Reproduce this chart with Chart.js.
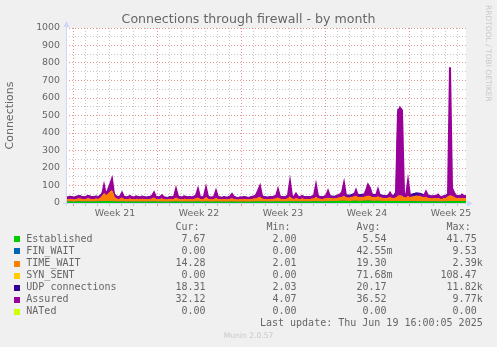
<!DOCTYPE html>
<html>
<head>
<meta charset="utf-8">
<script src="https://cdn.jsdelivr.net/npm/chart.js@4.4.1/dist/chart.umd.min.js"></script>
<style>
  html, body { margin: 0; padding: 0; background: #f0f0f0; }
  canvas { display: block; }
</style>
</head>
<body>
<canvas id="fwChart" width="497" height="347"></canvas>
<script>
// samples every 4 hours, hour 0 = left edge of the graph (33 1/3 days shown)
var hours = [];
for (let h = 0; h <= 800; h += 4) hours.push(h);

var weekLabels = ['Week 21', 'Week 22', 'Week 23', 'Week 24', 'Week 25'];
var weekLabelHours = [98, 266, 434, 602, 770];
var weekStartHours = [14, 182, 350, 518, 686];
var firstMidnightHour = 14;

var yTicksMajor = [0, 100, 200, 300, 400, 500, 600, 700, 800, 900, 1000];

var seriesNames = ['Established', 'FIN_WAIT', 'TIME_WAIT', 'SYN_SENT', 'UDP connections', 'Assured', 'NATed'];
var seriesColors = ['#00cc00', '#0066b3', '#ff8000', '#ffcc00', '#330099', '#990099', '#ccff00'];
var curValues = ['7.67', '0.00', '14.28', '0.00', '18.31', '32.12', '0.00'];
var minValues = ['2.00', '0.00', '2.01', '0.00', '2.03', '4.07', '0.00'];
var avgValues = ['5.54', '42.55m', '19.30', '71.68m', '20.17', '36.52', '0.00'];
var maxValues = ['41.75', '9.53', '2.39k', '108.47', '11.82k', '9.77k', '0.00'];
var statHeaders = ['Cur:', 'Min:', 'Avg:', 'Max:'];
var lastUpdate = 'Last update: Thu Jun 19 16:00:05 2025';

var established = [
  5, 5, 6, 5, 4, 5, 6, 6, 5, 5,
  5, 6, 5, 5, 5, 6, 5, 6, 7, 8,
  7, 7, 8, 9, 6, 5, 5, 5, 6, 5,
  4, 5, 5, 5, 4, 5, 5, 4, 5, 5,
  4, 5, 5, 5, 6, 5, 4, 5, 5, 4,
  4, 4, 5, 4, 5, 6, 5, 5, 4, 5,
  5, 4, 5, 4, 5, 5, 6, 5, 4, 5,
  6, 5, 4, 4, 5, 5, 5, 4, 4, 5,
  4, 4, 5, 5, 5, 4, 4, 4, 4, 5,
  4, 4, 4, 5, 5, 5, 6, 6, 5, 5,
  5, 4, 5, 5, 5, 6, 6, 5, 5, 5,
  5, 6, 7, 5, 5, 6, 5, 5, 6, 5,
  5, 5, 5, 6, 6, 7, 6, 6, 5, 6,
  6, 7, 7, 8, 8, 8, 9, 9, 10, 10,
  9, 9, 8, 9, 10, 10, 9, 9, 9, 10,
  10, 11, 10, 9, 9, 9, 10, 9, 9, 8,
  8, 9, 9, 8, 8, 9, 8, 8, 8, 8,
  7, 8, 7, 7, 6, 7, 7, 7, 6, 6,
  6, 6, 6, 5, 6, 6, 6, 5, 5, 6,
  6, 7, 8, 8, 7, 7, 8, 7, 8, 8, 8
];

var finWait = [
  0, 0, 0, 0, 0, 0, 0, 0, 0, 0,  0, 0, 0, 0, 0, 0, 0, 0, 0, 0,
  0, 0, 0, 0, 0, 0, 0, 0, 0, 0,  0, 0, 0, 0, 0, 0, 0, 0, 0, 0,
  0, 0, 0, 0, 0, 0, 0, 0, 0, 0,  0, 0, 0, 0, 0, 0, 0, 0, 0, 0,
  0, 0, 0, 0, 0, 0, 0, 0, 0, 0,  0, 0, 0, 0, 0, 0, 0, 0, 0, 0,
  0, 0, 0, 0, 0, 0, 0, 0, 0, 0,  0, 0, 0, 0, 0, 0, 0, 0, 0, 0,
  0, 0, 0, 0, 0, 0, 0, 0, 0, 0,  0, 0, 0, 0, 0, 0, 0, 0, 0, 0,
  0, 0, 0, 0, 0, 0, 0, 0, 0, 0,  0, 0, 0, 0, 0, 0, 0, 0, 0, 0,
  0, 0, 0, 0, 0, 0, 0, 0, 0, 0,  0, 0, 0, 0, 0, 0, 0, 0, 0, 0,
  0, 0, 0, 0, 0, 0, 0, 0, 0, 0,  0, 0, 0, 0, 0, 0, 0, 0, 0, 0,
  0, 0, 0, 0, 0, 0, 0, 0, 0, 0,  0, 0, 0, 0, 0, 0, 0, 0, 0, 0,
  0
];

var timeWait = [
  14, 13, 15, 14, 12, 15, 16, 17, 15, 14,
  15, 18, 16, 14, 15, 16, 15, 18, 30, 45,
  35, 40, 55, 60, 30, 18, 15, 16, 22, 15,
  14, 15, 17, 14, 13, 16, 15, 14, 16, 15,
  13, 14, 15, 17, 22, 15, 14, 15, 18, 14,
  13, 13, 15, 14, 16, 22, 16, 14, 13, 16,
  15, 14, 15, 13, 16, 18, 22, 15, 14, 16,
  24, 16, 14, 13, 15, 20, 15, 14, 13, 15,
  13, 14, 16, 18, 15, 13, 12, 14, 13, 15,
  14, 13, 14, 15, 17, 18, 22, 26, 17, 15,
  14, 13, 15, 14, 16, 17, 22, 16, 15, 14,
  15, 18, 28, 17, 15, 18, 16, 14, 17, 15,
  14, 15, 14, 16, 17, 26, 17, 15, 14, 16,
  17, 20, 16, 15, 14, 16, 18, 20, 22, 28,
  20, 18, 20, 22, 24, 26, 22, 20, 21, 22,
  24, 28, 26, 22, 20, 21, 24, 20, 18, 17,
  16, 18, 20, 18, 17, 20, 30, 32, 30, 22,
  20, 30, 22, 26, 30, 32, 30, 28, 26, 22,
  24, 20, 18, 17, 18, 17, 20, 16, 15, 18,
  20, 28, 32, 30, 24, 18, 17, 16, 18, 16, 15
];

var synSent = [
  0, 0, 0, 0, 0, 0, 0, 0, 0, 0,  0, 0, 0, 0, 0, 0, 0, 0, 0, 0,
  0, 0, 0, 0, 0, 0, 0, 0, 0, 0,  0, 0, 0, 0, 0, 0, 0, 0, 0, 0,
  0, 0, 0, 0, 0, 0, 0, 0, 0, 0,  0, 0, 0, 0, 0, 0, 0, 0, 0, 0,
  0, 0, 0, 0, 0, 0, 0, 0, 0, 0,  0, 0, 0, 0, 0, 0, 0, 0, 0, 0,
  0, 0, 0, 0, 0, 0, 0, 0, 0, 0,  0, 0, 0, 0, 0, 0, 0, 0, 0, 0,
  0, 0, 0, 0, 0, 0, 0, 0, 0, 0,  0, 0, 0, 0, 0, 0, 0, 0, 0, 0,
  0, 0, 0, 0, 0, 0, 0, 0, 0, 0,  0, 0, 0, 0, 0, 0, 0, 0, 0, 0,
  0, 0, 0, 0, 0, 0, 0, 0, 0, 0,  0, 0, 0, 0, 0, 0, 0, 0, 0, 0,
  0, 0, 0, 0, 0, 0, 0, 0, 0, 0,  0, 0, 0, 0, 0, 0, 0, 0, 0, 0,
  0, 0, 0, 0, 0, 0, 0, 0, 0, 0,  0, 0, 0, 0, 0, 0, 0, 0, 0, 0,
  0
];

var udp = [
  17, 16, 18, 17, 16, 18, 19, 18, 17, 16,
  18, 19, 18, 17, 17, 18, 17, 19, 20, 22,
  20, 21, 22, 24, 20, 18, 17, 18, 19, 17,
  16, 17, 18, 17, 16, 18, 17, 16, 18, 17,
  16, 17, 17, 18, 19, 17, 16, 17, 18, 16,
  16, 15, 17, 16, 17, 19, 18, 17, 16, 18,
  17, 16, 17, 16, 18, 19, 20, 17, 16, 18,
  20, 18, 16, 16, 17, 19, 17, 16, 15, 17,
  16, 16, 18, 19, 17, 16, 15, 16, 16, 17,
  16, 15, 16, 17, 18, 19, 20, 22, 18, 17,
  16, 16, 17, 16, 18, 19, 20, 18, 17, 16,
  17, 19, 22, 18, 17, 19, 18, 16, 18, 17,
  16, 17, 16, 18, 19, 22, 18, 17, 16, 17,
  18, 20, 18, 17, 16, 18, 19, 20, 21, 24,
  19, 18, 17, 19, 20, 22, 19, 18, 19, 20,
  22, 26, 24, 20, 19, 19, 21, 19, 18, 18,
  17, 18, 20, 19, 18, 40, 500, 480, 300, 30,
  20, 24, 19, 18, 18, 19, 20, 21, 20, 19,
  21, 19, 18, 17, 18, 18, 19, 17, 17, 18,
  19, 21, 30, 24, 20, 18, 18, 17, 19, 18, 17
];

var assured = [
  32, 30, 33, 31, 29, 34, 36, 38, 33, 31,
  35, 40, 37, 32, 34, 36, 33, 38, 45, 100,
  45, 75, 105, 137, 50, 35, 33, 36, 58, 34,
  31, 33, 40, 32, 30, 38, 33, 31, 36, 34,
  30, 32, 35, 40, 60, 34, 31, 33, 45, 32,
  30, 29, 33, 31, 36, 80, 38, 32, 30, 38,
  34, 31, 33, 30, 36, 42, 80, 35, 31, 38,
  87, 36, 32, 30, 34, 70, 33, 31, 29, 33,
  30, 32, 36, 51, 34, 30, 28, 31, 30, 33,
  31, 29, 30, 34, 38, 45, 70, 97, 40, 33,
  31, 30, 34, 32, 36, 40, 78, 36, 33, 31,
  34, 45, 122, 38, 34, 53, 36, 32, 40, 33,
  31, 34, 32, 36, 40, 103, 38, 33, 31, 35,
  40, 69, 36, 33, 31, 35, 42, 50, 60, 114,
  40, 35, 32, 38, 45, 74, 40, 34, 37, 42,
  70, 105, 85, 48, 38, 42, 78, 40, 34, 36,
  33, 40, 59, 38, 34, 45, 520, 545, 530, 50,
  40, 126, 42, 36, 34, 38, 40, 45, 42, 40,
  65, 42, 38, 36, 40, 38, 48, 36, 34, 38,
  40, 45, 775, 85, 60, 40, 38, 36, 48, 40, 38
];

var nated = [
  0, 0, 0, 0, 0, 0, 0, 0, 0, 0,  0, 0, 0, 0, 0, 0, 0, 0, 0, 0,
  0, 0, 0, 0, 0, 0, 0, 0, 0, 0,  0, 0, 0, 0, 0, 0, 0, 0, 0, 0,
  0, 0, 0, 0, 0, 0, 0, 0, 0, 0,  0, 0, 0, 0, 0, 0, 0, 0, 0, 0,
  0, 0, 0, 0, 0, 0, 0, 0, 0, 0,  0, 0, 0, 0, 0, 0, 0, 0, 0, 0,
  0, 0, 0, 0, 0, 0, 0, 0, 0, 0,  0, 0, 0, 0, 0, 0, 0, 0, 0, 0,
  0, 0, 0, 0, 0, 0, 0, 0, 0, 0,  0, 0, 0, 0, 0, 0, 0, 0, 0, 0,
  0, 0, 0, 0, 0, 0, 0, 0, 0, 0,  0, 0, 0, 0, 0, 0, 0, 0, 0, 0,
  0, 0, 0, 0, 0, 0, 0, 0, 0, 0,  0, 0, 0, 0, 0, 0, 0, 0, 0, 0,
  0, 0, 0, 0, 0, 0, 0, 0, 0, 0,  0, 0, 0, 0, 0, 0, 0, 0, 0, 0,
  0, 0, 0, 0, 0, 0, 0, 0, 0, 0,  0, 0, 0, 0, 0, 0, 0, 0, 0, 0,
  0
];

var textColor = '#666666';
var axisColor = '#cfd6f8';
var gridMinor = 'rgba(143,143,143,0.5)';
var gridMajor = 'rgba(222,79,79,0.6)';

Chart.defaults.font.family = '"DejaVu Sans", sans-serif';
Chart.defaults.color = textColor;

// x ticks: every midnight (grid only) + week centres (label only)
var xTickHours = [];
for (let h = firstMidnightHour; h < 800; h += 24) xTickHours.push(h);
weekLabelHours.forEach(h => xTickHours.push(h));
xTickHours.sort((a, b) => a - b);

function area(label, data, color, fill, stack, order, width) {
    return {
        label: label, data: data, stack: stack, order: order, fill: fill,
        borderColor: color, backgroundColor: color, borderWidth: width || 1,
        pointRadius: 0, tension: 0
    };
}

var canvasBg = {
    id: 'canvasBg',
    beforeDraw(chart) {
        const a = chart.chartArea;
        chart.ctx.save();
        chart.ctx.fillStyle = '#ffffff';
        chart.ctx.fillRect(a.left, a.top, a.right - a.left, a.bottom - a.top);
        chart.ctx.restore();
    }
};

// munin style axis arrows, watermark and legend table
var muninExtras = {
    id: 'muninExtras',
    afterDraw(chart) {
        const ctx = chart.ctx;
        const a = chart.chartArea;
        ctx.save();
        ctx.strokeStyle = axisColor;
        ctx.fillStyle = axisColor;
        ctx.lineWidth = 1;
        ctx.beginPath();
        ctx.moveTo(a.left + 0.5, a.bottom + 3);
        ctx.lineTo(a.left + 0.5, a.top - 3);
        ctx.moveTo(a.left - 3, a.bottom + 0.5);
        ctx.lineTo(a.right + 3, a.bottom + 0.5);
        ctx.stroke();
        ctx.beginPath();
        ctx.moveTo(a.left + 0.5, a.top - 7);
        ctx.lineTo(a.left - 2.5, a.top - 1);
        ctx.lineTo(a.left + 3.5, a.top - 1);
        ctx.fill();
        ctx.beginPath();
        ctx.moveTo(a.right + 7, a.bottom + 0.5);
        ctx.lineTo(a.right + 1, a.bottom - 2.5);
        ctx.lineTo(a.right + 1, a.bottom + 3.5);
        ctx.fill();

        // watermark
        ctx.save();
        ctx.translate(485, 5);
        ctx.rotate(Math.PI / 2);
        ctx.font = '7.5px "DejaVu Sans"';
        ctx.fillStyle = '#c8c8c8';
        ctx.textAlign = 'left';
        ctx.textBaseline = 'middle';
        ctx.fillText('RRDTOOL / TOBI OETIKER', 0, -3);
        ctx.restore();

        // legend
        ctx.font = '10px "DejaVu Sans Mono"';
        ctx.textBaseline = 'middle';
        const cw = ctx.measureText('0').width;
        const colRight = [211.6, 302.6, 392.6, 482.7];
        const rowY = k => 227.3 + 12.07 * k;
        ctx.fillStyle = textColor;
        ctx.textAlign = 'right';
        statHeaders.forEach((h, c) => ctx.fillText(h, colRight[c] - 2 * cw, rowY(0)));
        const stats = [curValues, minValues, avgValues, maxValues];
        seriesNames.forEach((name, r) => {
            const y = rowY(r + 1);
            ctx.fillStyle = seriesColors[r];
            ctx.fillRect(14, Math.round(y) - 3, 6, 6);
            ctx.fillStyle = textColor;
            ctx.textAlign = 'left';
            ctx.fillText(name, 26.3, y);
            ctx.textAlign = 'right';
            stats.forEach((arr, c) => {
                const s = arr[r];
                const unit = /[a-z]$/i.test(s);
                ctx.fillText(s, colRight[c] - (unit ? 0 : cw), y);
            });
        });
        ctx.fillText(lastUpdate, 482.7, rowY(8));

        ctx.font = '7.6px "DejaVu Sans"';
        ctx.fillStyle = '#c8c8c8';
        ctx.textAlign = 'center';
        ctx.fillText('Munin 2.0.57', 248.5, 336);
        ctx.restore();
    }
};

var ctx = document.getElementById('fwChart');
var chart = new Chart(ctx, {
    type: 'line',
    data: {
        labels: hours,
        datasets: [
            area(seriesNames[0], established, seriesColors[0], 'origin', 'conn', 0),
            area(seriesNames[1], finWait, seriesColors[1], '-1', 'conn', 1),
            area(seriesNames[2], timeWait, seriesColors[2], '-1', 'conn', 2),
            area(seriesNames[3], synSent, seriesColors[3], '-1', 'conn', 3),
            area(seriesNames[4], udp, seriesColors[4], '-1', 'conn', 6),
            area(seriesNames[5], assured, seriesColors[5], 'origin', 'assured', 5, 2),
            area(seriesNames[6], nated, seriesColors[6], false, 'nated', 4)
        ]
    },
    options: {
        responsive: false,
        animation: false,
        devicePixelRatio: 1,
        layout: { padding: { left: 0, right: 0, top: 0, bottom: 0 } },
        plugins: {
            legend: { display: false },
            tooltip: { enabled: false },
            title: {
                display: true,
                text: 'Connections through firewall - by month',
                color: textColor,
                font: { size: 12.6, weight: 'normal' },
                padding: { top: 12, bottom: 0.88 }
            }
        },
        scales: {
            x: {
                type: 'linear',
                min: 0,
                max: 800,
                afterBuildTicks: scale => { scale.ticks = xTickHours.map(v => ({ value: v })); },
                afterFit: scale => { scale.height = 144; },
                ticks: {
                    autoSkip: false,
                    maxRotation: 0,
                    padding: 2,
                    font: { size: 9.4 },
                    color: textColor,
                    callback: v => {
                        const k = weekLabelHours.indexOf(v);
                        return k >= 0 ? weekLabels[k] : '';
                    }
                },
                grid: {
                    tickLength: 3,
                    color: c => {
                        const v = c.tick ? c.tick.value : -1;
                        if (weekStartHours.indexOf(v) >= 0) return gridMajor;
                        if (weekLabelHours.indexOf(v) >= 0) return 'rgba(0,0,0,0)';
                        return gridMinor;
                    }
                },
                border: { display: false, dash: [1, 2] }
            },
            y: {
                stacked: true,
                min: 0,
                max: 1000,
                afterFit: scale => { scale.width = 66; },
                ticks: {
                    stepSize: 50,
                    autoSkip: false,
                    padding: 6,
                    font: { size: 9.4 },
                    color: textColor,
                    callback: v => yTicksMajor.indexOf(v) >= 0 ? v : ''
                },
                grid: {
                    drawTicks: false,
                    color: c => (c.tick && yTicksMajor.indexOf(c.tick.value) >= 0) ? gridMajor : gridMinor
                },
                border: { display: false, dash: [1, 2] },
                title: {
                    display: true,
                    text: 'Connections',
                    color: textColor,
                    font: { size: 11 },
                    padding: { top: 4, bottom: 0 }
                }
            },
            y2: {
                position: 'right',
                display: true,
                afterFit: scale => { scale.width = 31; },
                ticks: { display: false },
                grid: { display: false },
                border: { display: false }
            }
        }
    },
    plugins: [canvasBg, muninExtras]
});
</script>
</body>
</html>
